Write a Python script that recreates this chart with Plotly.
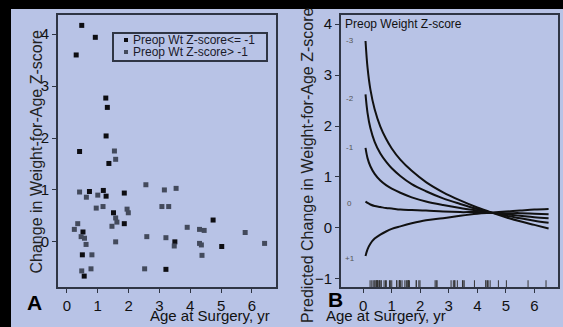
import plotly.graph_objects as go

# ---- Panel A data ----
age_low = [0.48, 0.92, 0.30, 1.26, 1.31, 1.27, 0.41, 1.36, 0.73, 1.18, 1.27, 1.51, 1.86, 1.86, 0.52, 0.50, 0.56, 3.21, 3.50, 4.74, 5.02]
chg_low = [4.17, 3.94, 3.60, 2.77, 2.59, 2.04, 1.74, 1.51, 0.97, 0.99, 0.88, 0.56, 0.94, 0.35, 0.19, -0.25, -0.66, -0.53, 0.00, 0.42, -0.09]

age_high = [1.54, 1.58, 2.56, 0.41, 1.00, 0.63, 1.17, 0.95, 1.58, 1.62, 1.46, 1.58, 1.95, 1.99, 0.35, 0.24, 0.46, 0.57, 0.62,
            0.81, 0.48, 0.78, 2.52, 2.59, 3.16, 3.54, 3.08, 3.30, 3.21, 3.48, 3.90, 4.30, 4.45, 4.30, 4.36, 4.38, 5.78, 6.41]
chg_high = [1.75, 1.59, 1.10, 0.96, 0.90, 0.86, 0.68, 0.65, 0.46, 0.38, 0.30, 0.00, 0.63, 0.56, 0.35, 0.24, 0.10, 0.07, -0.05,
            -0.25, -0.56, -0.52, -0.52, 0.10, 1.00, 1.03, 0.68, 0.68, 0.08, -0.08, 0.28, 0.24, 0.22, -0.03, -0.06, -0.26, 0.18, -0.03]

# ---- Panel B data (predicted curves) ----
curve_x = [0.08, 0.15, 0.25, 0.4, 0.6, 0.8, 1.0, 1.3, 1.7, 2.2, 2.8, 3.4, 4.0, 4.5, 5.0, 5.5, 6.0, 6.5]
curve_m3 = [3.67, 3.15, 2.72, 2.33, 1.99, 1.75, 1.56, 1.34, 1.12, 0.90, 0.70, 0.54, 0.40, 0.30, 0.21, 0.13, 0.06, -0.01]
curve_m2 = [2.62, 2.26, 1.96, 1.69, 1.46, 1.30, 1.17, 1.02, 0.86, 0.72, 0.58, 0.47, 0.37, 0.30, 0.24, 0.19, 0.14, 0.10]
curve_m1 = [1.57, 1.37, 1.21, 1.06, 0.93, 0.84, 0.77, 0.69, 0.60, 0.52, 0.45, 0.39, 0.34, 0.30, 0.27, 0.24, 0.21, 0.19]
curve_0 = [0.52, 0.49, 0.46, 0.43, 0.41, 0.39, 0.38, 0.36, 0.35, 0.34, 0.32, 0.31, 0.31, 0.30, 0.29, 0.29, 0.28, 0.27]
curve_p1 = [-0.55, -0.42, -0.31, -0.21, -0.13, -0.07, -0.02, 0.03, 0.09, 0.15, 0.19, 0.24, 0.28, 0.30, 0.32, 0.34, 0.36, 0.37]
curve_names = ["-3", "-2", "-1", "0", "+1"]
curve_label_y = [3.67, 2.55, 1.57, 0.48, -0.60]

x_ticks = [0, 1, 2, 3, 4, 5, 6]
yA_ticks = [0, 1, 2, 3, 4]
yB_ticks = [-1, 0, 1, 2, 3, 4]

W, H = 563, 327
BG = "#b8c3e6"
FRAME = "#2f3544"
FONT = "Liberation Sans, Arial, sans-serif"

def px(x):
    return x / W

def py(y):
    return 1 - y / H

fig = go.Figure()

fig.add_trace(go.Scatter(x=age_low, y=chg_low, mode="markers", xaxis="x", yaxis="y",
                         marker=dict(symbol="square", size=5, color="#0d0d12"), showlegend=False))
fig.add_trace(go.Scatter(x=age_high, y=chg_high, mode="markers", xaxis="x", yaxis="y",
                         marker=dict(symbol="square", size=5, color="#434a5c"), showlegend=False))

for cy in [curve_m3, curve_m2, curve_m1, curve_0, curve_p1]:
    fig.add_trace(go.Scatter(x=curve_x, y=cy, mode="lines", xaxis="x2", yaxis="y2",
                             line=dict(color="#111111", width=2, shape="spline"), showlegend=False))

rug_x = age_low + age_high
fig.add_trace(go.Scatter(x=rug_x, y=[-1.11] * len(rug_x), mode="markers", xaxis="x2", yaxis="y2",
                         marker=dict(symbol="line-ns", size=6, line=dict(width=1, color="#333")),
                         showlegend=False))

axis_common = dict(showgrid=False, zeroline=False, showline=True, mirror=True, linecolor=FRAME,
                   linewidth=2, ticks="outside", ticklen=4, tickcolor=FRAME, tickwidth=1, automargin=False,
                   tickfont=dict(family=FONT, size=15, color="#111"))

fig.update_layout(
    width=W, height=H, margin=dict(l=0, r=0, t=0, b=0, autoexpand=False),
    paper_bgcolor=BG, plot_bgcolor=BG,
    xaxis=dict(domain=[px(58), px(276)], range=[-0.29, 6.78], tickvals=x_ticks, anchor="y", **axis_common),
    yaxis=dict(domain=[py(287), py(15)], range=[-0.87, 4.37], tickvals=yA_ticks, anchor="x", **axis_common),
    xaxis2=dict(domain=[px(341), px(558)], range=[-0.78, 6.83], tickvals=x_ticks, anchor="y2", **axis_common),
    yaxis2=dict(domain=[py(287), py(15)], range=[-1.16, 4.18], tickvals=yB_ticks, anchor="x2", **axis_common),
)

shapes = [
    dict(type="rect", xref="paper", yref="paper", x0=0, x1=1, y0=py(9), y1=1,
         fillcolor="#000000", line=dict(width=0)),
    dict(type="rect", xref="paper", yref="paper", x0=0, x1=px(11), y0=0, y1=1,
         fillcolor="#000000", line=dict(width=0)),
    # manual legend box
    dict(type="rect", xref="paper", yref="paper", x0=px(113), x1=px(267), y0=py(61), y1=py(33),
         fillcolor=BG, line=dict(color=FRAME, width=2)),
    dict(type="rect", xref="paper", yref="paper", x0=px(124), x1=px(128), y0=py(42), y1=py(38),
         fillcolor="#0d0d12", line=dict(width=0)),
    dict(type="rect", xref="paper", yref="paper", x0=px(124), x1=px(128), y0=py(54), y1=py(50),
         fillcolor="#434a5c", line=dict(width=0)),
]
fig.update_layout(shapes=shapes)

ann = []
ann.append(dict(xref="paper", yref="paper", x=px(131), y=py(40), text="Preop Wt Z-score<= -1", showarrow=False,
                xanchor="left", yanchor="middle", font=dict(family=FONT, size=12, color="#1a1a2a")))
ann.append(dict(xref="paper", yref="paper", x=px(131), y=py(52), text="Preop Wt Z-score> -1", showarrow=False,
                xanchor="left", yanchor="middle", font=dict(family=FONT, size=12, color="#1a1a2a")))
ann.append(dict(xref="paper", yref="paper", x=px(26), y=py(152), text="Change in Weight-for-Age Z-score",
                textangle=-90, showarrow=False, font=dict(family=FONT, size=16, color="#222")))
ann.append(dict(xref="paper", yref="paper", x=px(307), y=py(165), text="Predicted Change in Weight-for-Age Z-score",
                textangle=-90, showarrow=False, font=dict(family=FONT, size=16, color="#222")))
ann.append(dict(xref="paper", yref="paper", x=px(148), y=py(326), text="Age at Surgery, yr", showarrow=False,
                font=dict(family=FONT, size=15, color="#111")))
ann.append(dict(xref="paper", yref="paper", x=px(448), y=py(326), text="Age at Surgery, yr", showarrow=False,
                font=dict(family=FONT, size=15, color="#111")))
ann.append(dict(xref="paper", yref="paper", x=px(25), y=py(316), text="<b>A</b>", showarrow=False,
                font=dict(family=FONT, size=21, color="#000")))
ann.append(dict(xref="paper", yref="paper", x=px(335), y=py(313), text="<b>B</b>", showarrow=False,
                font=dict(family=FONT, size=21, color="#000")))
ann.append(dict(xref="x2", yref="y2", x=-0.71, y=4.0, text="Preop Weight Z-score", showarrow=False,
                xanchor="left", yanchor="middle", font=dict(family=FONT, size=12, color="#111")))
for name, ly in zip(curve_names, curve_label_y):
    ann.append(dict(xref="x2", yref="y2", x=-0.47, y=ly, text=name, showarrow=False,
                    font=dict(family=FONT, size=8, color="#555")))
fig.update_layout(annotations=ann)

post = (
    "document.body.style.margin='0px';"
    "document.body.style.padding='0px';"
    "document.body.style.overflow='hidden';"
    "document.documentElement.style.overflow='hidden';"
    "window.scrollTo(0,0);"
)
fig.write_html("out.html", config={"displayModeBar": False}, post_script=post)
